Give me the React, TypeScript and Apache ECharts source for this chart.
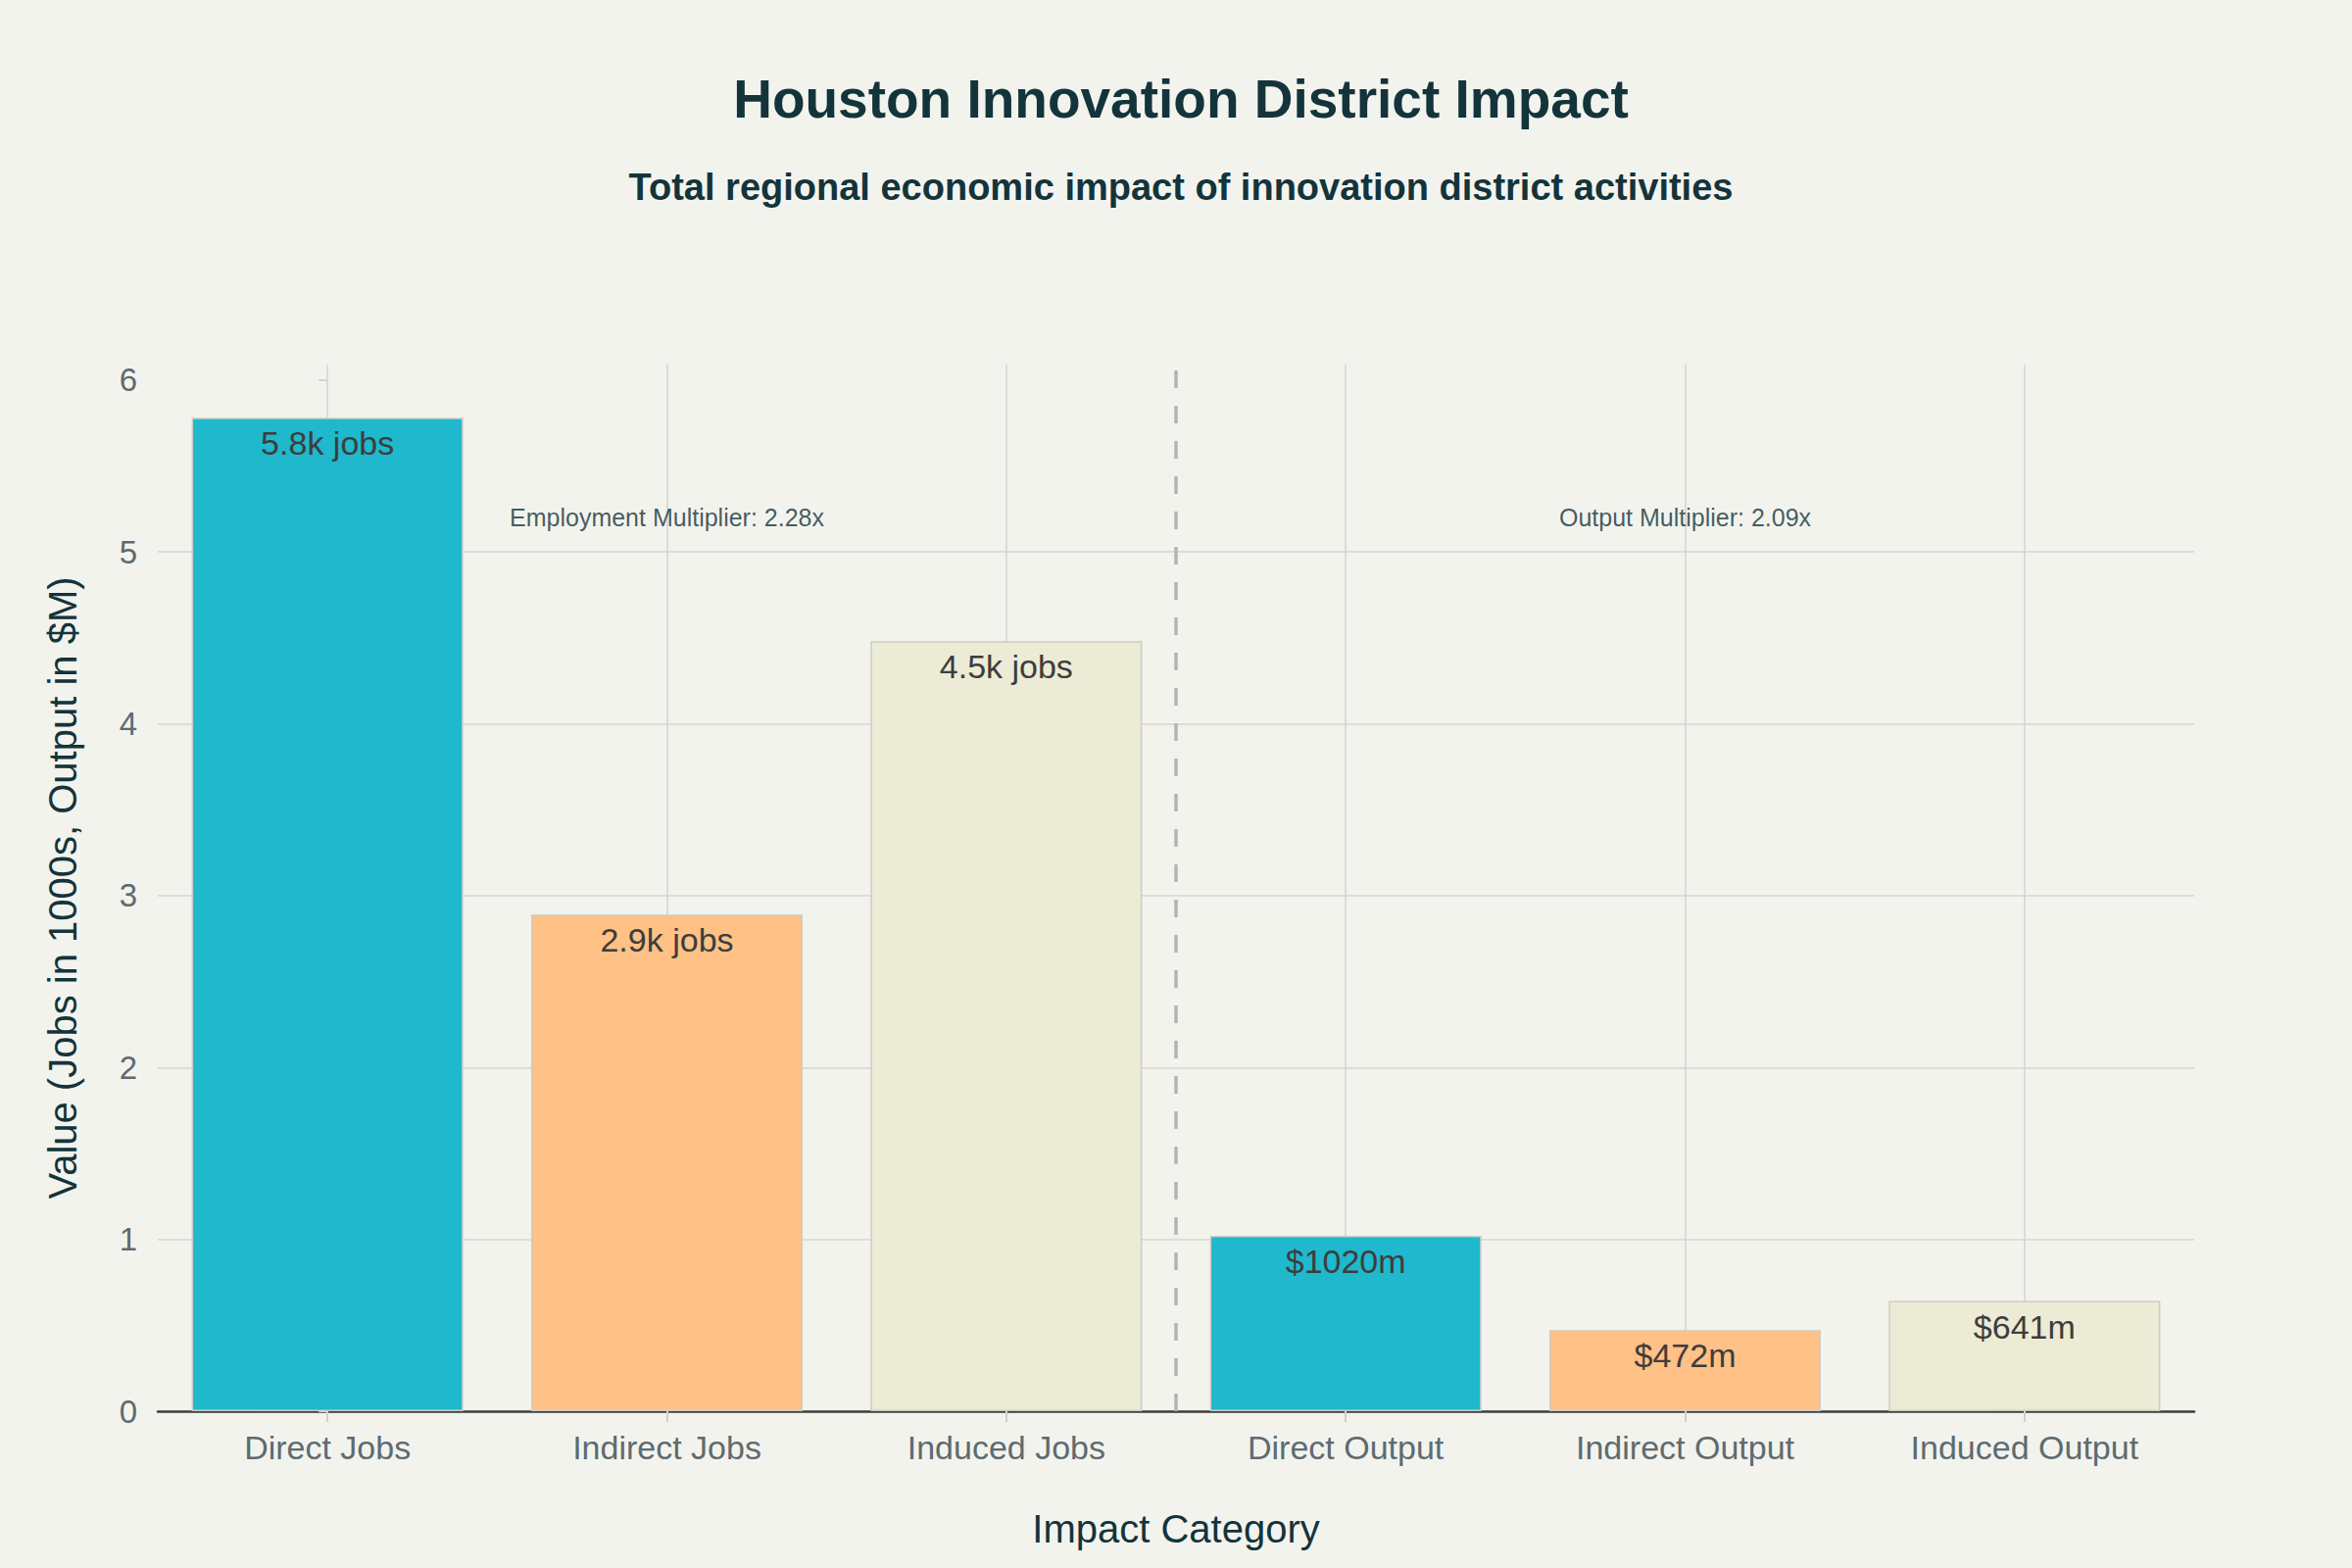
import React, { useEffect, useRef } from "react";
import * as echarts from "echarts";

const categories = ["Direct Jobs", "Indirect Jobs", "Induced Jobs", "Direct Output", "Indirect Output", "Induced Output"];
const values = [5.78, 2.89, 4.48, 1.02, 0.472, 0.641];
const barLabels = ["5.8k jobs", "2.9k jobs", "4.5k jobs", "$1020m", "$472m", "$641m"];
const barColors = ["#1FB8CD", "#FFC185", "#ECEBD5", "#1FB8CD", "#FFC185", "#ECEBD5"];
const yTicks = [0, 1, 2, 3, 4, 5, 6];
const annotationTexts = ["Employment Multiplier: 2.28x", "Output Multiplier: 2.09x"];
const annotationX = [1, 4];
const annotationY = [5.2, 5.2];
const dividerX = 2.5;

const titleText = "Houston Innovation District Impact";
const subtitleText = "Total regional economic impact of innovation district activities";
const xName = "Impact Category";
const yName = "Value (Jobs in 1000s, Output in $M)";

const REG = "'Liberation Sans', Arial, sans-serif";

export default function App() {
  const ref = useRef<HTMLDivElement>(null);
  useEffect(() => {
    if (!ref.current) return;
    const chart = echarts.init(ref.current, null, { renderer: "svg" });
    const option: any = {
      animation: false,
      backgroundColor: "#F3F3EE",
      title: [
        {
          text: titleText,
          left: "50%",
          textAlign: "center",
          top: 68,
          textStyle: { fontFamily: REG, fontWeight: "bold", fontSize: 55, color: "#13343B" },
        },
        {
          text: subtitleText,
          left: "50%",
          textAlign: "center",
          top: 167,
          textStyle: { fontFamily: REG, fontWeight: "bold", fontSize: 38, color: "#13343B" },
        },
      ],
      grid: { left: 161, right: 161, top: 372, bottom: 160, containLabel: false },
      xAxis: [
        {
          type: "category",
          data: categories,
          name: xName,
          nameLocation: "middle",
          nameGap: 100,
          nameTextStyle: { fontFamily: REG, fontSize: 40, color: "#13343B" },
          axisLine: { show: true, lineStyle: { color: "#3f3f3f", width: 2.5 } },
          axisTick: { show: true, alignWithLabel: true, length: 11, lineStyle: { color: "#cfcfcf", width: 2 } },
          axisLabel: { fontFamily: REG, fontSize: 34, color: "#5D6B70", margin: 20 },
          splitLine: { show: false },
        },
        { type: "value", min: -0.5, max: 5.5, show: false },
      ],
      yAxis: {
        type: "value",
        min: 0,
        max: 6.09,
        name: yName,
        nameLocation: "middle",
        nameRotate: 90,
        nameGap: 77,
        nameTextStyle: { fontFamily: REG, fontSize: 40, color: "#13343B" },
        axisLine: { show: false },
        axisTick: { show: true, length: 9, customValues: yTicks, lineStyle: { color: "#d6d3ce", width: 2 } },
        axisLabel: { fontFamily: REG, fontSize: 33, color: "#5D6B70", margin: 21, customValues: yTicks },
        splitLine: { show: true, showMaxLine: false, lineStyle: { color: "#d9d5d0", width: 1.5 } },
      },
      series: [
        {
          type: "line",
          xAxisIndex: 1,
          data: [],
          z: 0,
          silent: true,
          markLine: {
            z: 0,
            symbol: "none",
            silent: true,
            label: { show: false },
            lineStyle: { color: "#d3d3cf", width: 1.5, type: "solid" },
            data: categories.map((_, i) => ({ xAxis: i })),
          },
        },
        {
          type: "line",
          xAxisIndex: 1,
          data: [],
          z: 3,
          silent: true,
          markLine: {
            z: 3,
            symbol: "none",
            silent: true,
            label: { show: false },
            lineStyle: { color: "#b4b4b4", width: 3.5, type: [18, 18] },
            data: [{ xAxis: dividerX }],
          },
        },
        {
          type: "bar",
          xAxisIndex: 0,
          barWidth: "80%",
          z: 2,
          data: values.map((v, i) => ({
            value: v,
            itemStyle: { color: barColors[i], borderColor: "#cdccc4", borderWidth: 1.5 },
          })),
          label: {
            show: true,
            position: "insideTop",
            distance: 9,
            formatter: (p: any) => barLabels[p.dataIndex],
            fontFamily: REG,
            fontSize: 34,
            color: "#3d3d3d",
          },
        },
        {
          type: "scatter",
          xAxisIndex: 0,
          symbolSize: 0,
          z: 5,
          silent: true,
          data: annotationX.map((x, i) => [x, annotationY[i]]),
          label: {
            show: true,
            position: "inside",
            formatter: (p: any) => annotationTexts[p.dataIndex],
            fontFamily: REG,
            fontSize: 25,
            color: "#13343B",
          },
        },
      ],
    };
    chart.setOption(option);
    return () => chart.dispose();
  }, []);
  return <div ref={ref} style={{ position: "absolute", left: 0, top: 0, width: 2400, height: 1600 }} />;
}
